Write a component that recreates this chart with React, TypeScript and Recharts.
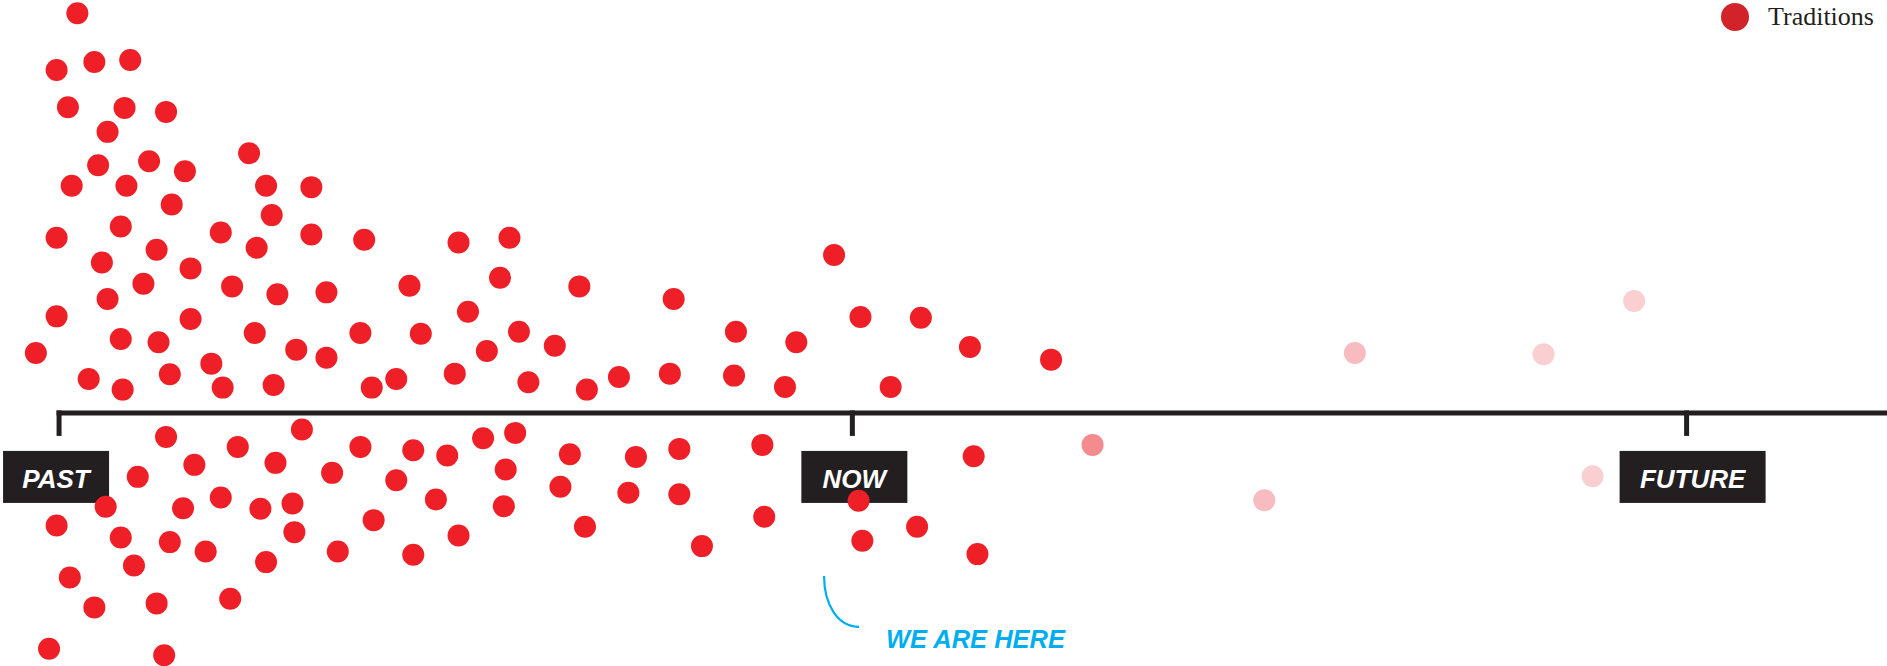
import React from "react"
import { Legend, ReferenceDot, ReferenceLine, Scatter, ScatterChart, XAxis, YAxis } from "recharts"

// x: position along the timeline (0..100), y: spread above (+) / below (-) the line
const traditionsX = [
  4.1, 3.0, 5.0, 6.9, 3.6, 6.6, 8.8, 5.7, 13.2, 5.2,
  7.9, 9.8, 3.8, 6.7, 14.1, 16.5, 9.1, 14.4, 3.0, 6.4,
  11.7, 13.6, 16.5, 19.3, 5.4, 8.3, 10.1, 7.6, 12.3, 14.7,
  17.3, 5.7, 3.0, 10.1, 13.5, 19.1, 6.4, 8.4, 21.7, 24.3,
  27.0, 26.5, 30.7, 35.7, 44.2, 24.8, 45.6, 22.3, 27.5, 39.0,
  42.2, 1.9, 15.7, 17.3, 11.2, 4.7, 6.5, 9.0, 11.8, 14.5,
  19.7, 21.0, 25.8, 29.4, 24.1, 28.0, 31.1, 32.8, 35.5, 38.9,
  41.6, 47.2, 48.8, 51.4, 55.7,
  8.8, 12.6, 16.0, 19.1, 10.3, 14.6, 17.6, 21.0, 7.3, 5.6,
  9.7, 11.7, 13.8, 15.5, 3.0, 6.4, 9.0, 10.9, 15.6, 19.8,
  7.1, 14.1, 17.9, 3.7, 5.0, 8.3, 12.2, 2.6, 8.7, 21.9,
  23.7, 25.6, 27.3, 26.8, 30.2, 33.7, 36.0, 40.4, 23.1, 26.7,
  29.7, 33.3, 36.0, 45.5, 40.5, 24.3, 21.9, 31.0, 37.2, 45.7,
  51.6, 48.6, 51.8,
]
const traditionsY = [
  60.0, 51.5, 52.7, 53.0, 45.9, 45.8, 45.2, 42.2, 39.0, 37.2,
  37.8, 36.3, 34.1, 34.1, 34.1, 33.9, 31.3, 29.7, 26.3, 28.0,
  27.1, 24.8, 26.8, 26.0, 22.6, 24.5, 21.7, 19.4, 19.0, 17.8,
  18.1, 17.1, 14.5, 14.1, 12.0, 12.0, 11.1, 10.6, 19.1, 25.6,
  26.3, 20.3, 19.0, 17.1, 23.7, 15.2, 14.4, 11.9, 12.2, 12.2,
  10.6, 9.0, 9.5, 8.3, 7.4, 5.1, 3.5, 5.8, 3.8, 4.2,
  3.8, 5.1, 9.3, 10.1, 5.9, 4.6, 3.5, 5.4, 5.9, 5.6,
  3.9, 3.9, 14.3, 9.9, 8.0,
  -3.6, -5.1, -2.5, -5.1, -7.8, -7.5, -9.0, -10.1, -9.6, -14.1,
  -14.3, -12.7, -14.4, -13.6, -16.9, -18.7, -19.4, -20.8, -17.9, -16.1,
  -22.9, -22.4, -20.8, -24.7, -29.2, -28.6, -27.9, -35.4, -36.4, -5.6,
  -6.4, -3.8, -3.0, -8.5, -6.2, -6.6, -5.4, -4.8, -13.0, -14.0,
  -11.1, -12.0, -12.2, -13.2, -15.6, -18.4, -21.3, -17.1, -20.0, -19.2,
  -6.5, -17.1, -21.2,
]

const fadingX = [57.9]
const fadingY = [-4.8]
const nearFutureX = [71.8, 67.0]
const nearFutureY = [9.0, -13.1]
const farFutureX = [81.8, 86.6, 84.4]
const farFutureY = [8.8, 16.8, -9.5]

const milestoneLabels = ["PAST", "NOW", "FUTURE"]
const milestoneX = [3.13, 45.17, 89.38]

const hereLabel = "WE ARE HERE"
const hereX = 43.67
const hereY = -24.5

const W = 1887
const H = 666
const DOT_R = 11
const INK = "#231f20"
const RED = "#ee1f26"
const LEGEND_RED = "#d2232a"
const BLUE = "#00aeef"
const SANS = "'Liberation Sans', Arial, sans-serif"

const boxStyle: Record<string, { w: number; dx: number }> = {
  PAST: { w: 106, dx: -3 },
  NOW: { w: 106, dx: 2 },
  FUTURE: { w: 146, dx: 6 },
}

const zip = (xs: number[], ys: number[]) => xs.map((x, i) => ({ x, y: ys[i] }))

const dot = (fill: string) => (p: any) => <circle cx={p.cx} cy={p.cy} r={DOT_R} fill={fill} />

function Milestone({ cx, cy, label }: { cx: number; cy: number; label: string }) {
  const b = boxStyle[label]
  const left = cx + b.dx - b.w / 2
  return (
    <g>
      <line x1={cx} y1={cy - 2.5} x2={cx} y2={cy + 23} stroke={INK} strokeWidth={5} />
      <rect x={left} y={cy + 38} width={b.w} height={52} fill={INK} />
      <text
        x={left + b.w / 2}
        y={cy + 75}
        textAnchor="middle"
        fill="#fff"
        fontFamily={SANS}
        fontWeight="bold"
        fontStyle="italic"
        fontSize={26}
      >
        {label}
      </text>
    </g>
  )
}

function HereMark({ cx, cy }: { cx: number; cy: number }) {
  return (
    <g>
      <path
        d={`M${cx},${cy} C${cx},${cy + 29} ${cx + 14},${cy + 50.7} ${cx + 35},${cy + 50.7}`}
        fill="none"
        stroke={BLUE}
        strokeWidth={2.2}
      />
      <text
        x={cx + 62}
        y={cy + 72}
        fill={BLUE}
        fontFamily={SANS}
        fontWeight="bold"
        fontStyle="italic"
        fontSize={25.5}
      >
        {hereLabel}
      </text>
    </g>
  )
}

function TraditionsLegend({ payload }: { payload?: Array<{ value: string; type?: string }> }) {
  const items = (payload || []).filter((p) => p.type !== "none")
  return (
    <div>
      {items.map((item) => (
        <svg key={item.value} width={172} height={36} style={{ display: "block" }}>
          <circle cx={14} cy={15} r={14} fill={LEGEND_RED} />
          <text x={47} y={23} fontFamily="'Liberation Serif', serif" fontSize={26} fill={INK}>
            {item.value}
          </text>
        </svg>
      ))}
    </div>
  )
}

export default function App() {
  return (
    <div style={{ position: "absolute", left: 0, top: 0, width: W, height: H, background: "#fff" }}>
      <ScatterChart width={W} height={H} margin={{ top: 0, right: 0, bottom: 0, left: 0 }}>
        <XAxis type="number" dataKey="x" domain={[0, 100]} allowDataOverflow hide />
        <YAxis type="number" dataKey="y" domain={[-38, 62]} allowDataOverflow hide />
        <ReferenceLine
          segment={[
            { x: milestoneX[0], y: 0 },
            { x: 100, y: 0 },
          ]}
          stroke={INK}
          strokeWidth={5}
          strokeLinecap="square"
        />
        {milestoneLabels.map((label, i) => (
          <ReferenceDot
            key={label}
            x={milestoneX[i]}
            y={0}
            r={0}
            shape={(p: any) => <Milestone cx={p.cx} cy={p.cy} label={label} />}
          />
        ))}
        <ReferenceDot x={hereX} y={hereY} r={0} shape={(p: any) => <HereMark cx={p.cx} cy={p.cy} />} />
        <Legend
          layout="vertical"
          align="center"
          verticalAlign="middle"
          wrapperStyle={{ top: 2, left: 1721, width: 172 }}
          content={<TraditionsLegend />}
        />
        <Scatter
          name="Traditions"
          data={zip(traditionsX, traditionsY)}
          fill={RED}
          shape={dot(RED)}
          isAnimationActive={false}
        />
        <Scatter
          name="Fading"
          data={zip(fadingX, fadingY)}
          fill="#f48b8f"
          shape={dot("#f48b8f")}
          legendType="none"
          isAnimationActive={false}
        />
        <Scatter
          name="Near future"
          data={zip(nearFutureX, nearFutureY)}
          fill="#f8bbbf"
          shape={dot("#f8bbbf")}
          legendType="none"
          isAnimationActive={false}
        />
        <Scatter
          name="Far future"
          data={zip(farFutureX, farFutureY)}
          fill="#f9cfd2"
          shape={dot("#f9cfd2")}
          legendType="none"
          isAnimationActive={false}
        />
      </ScatterChart>
    </div>
  )
}
